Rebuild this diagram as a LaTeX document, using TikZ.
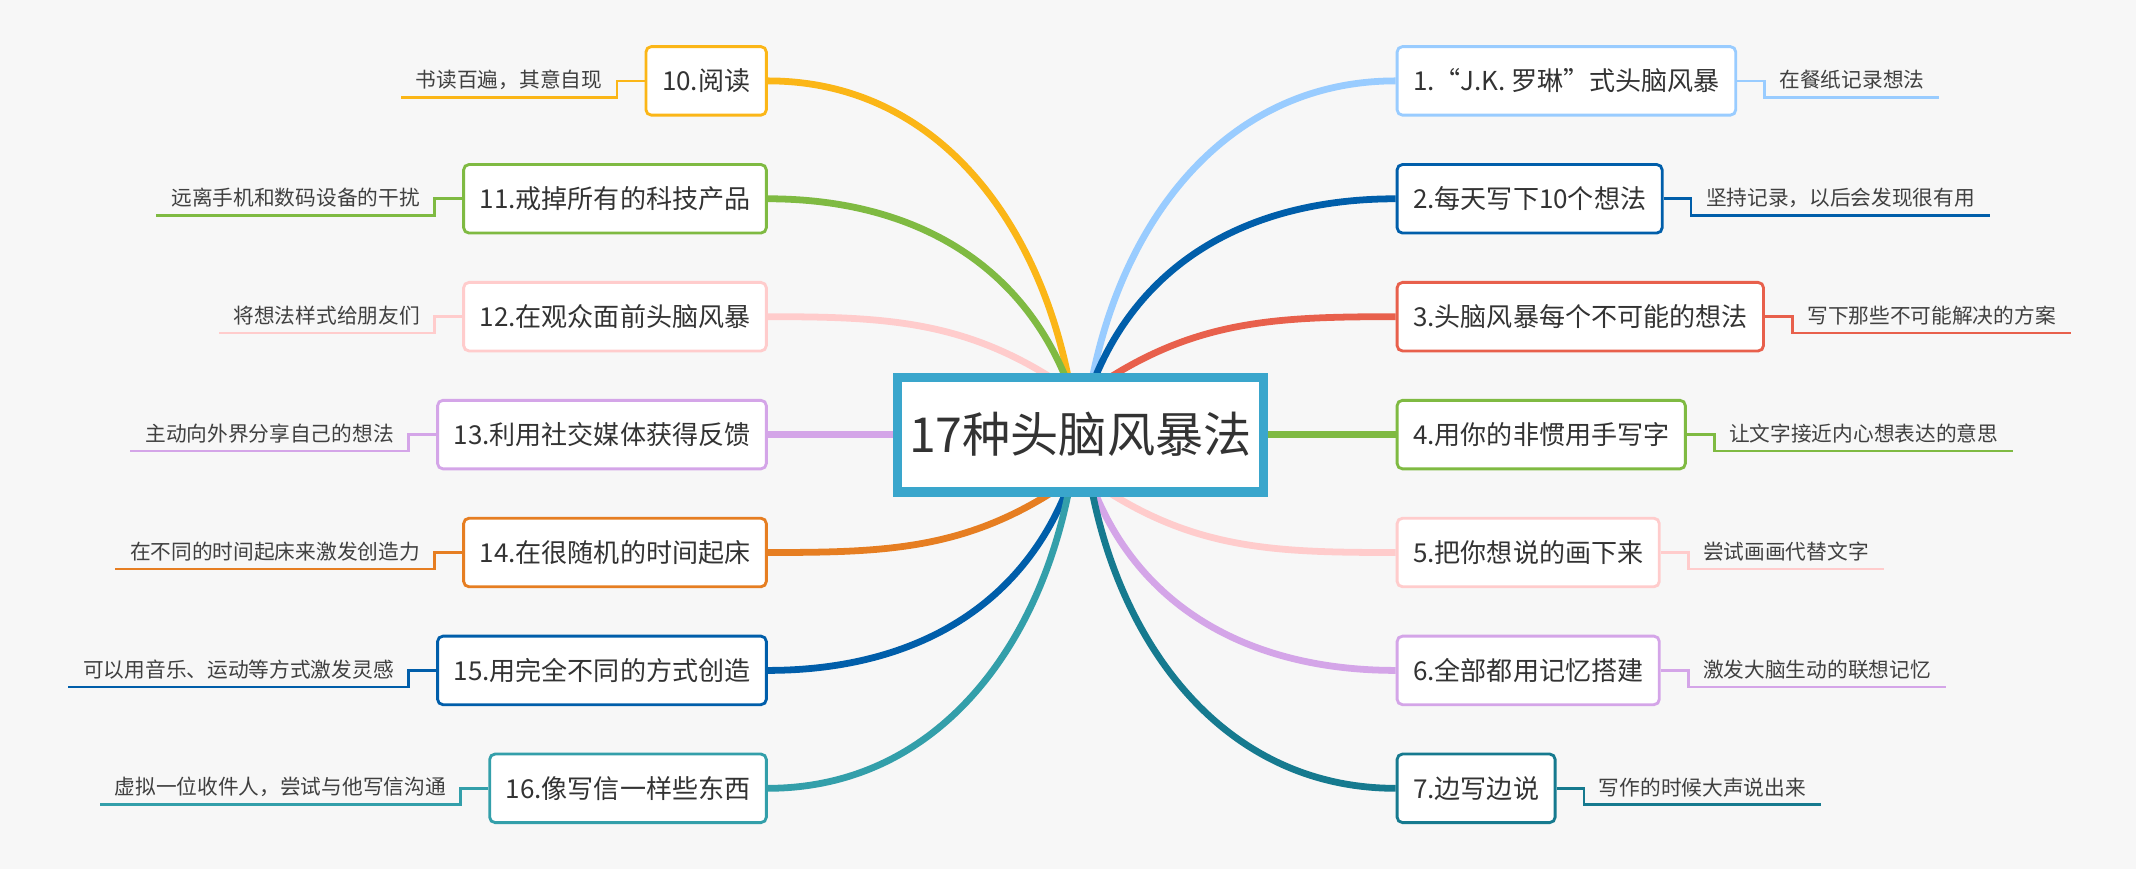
\documentclass[tikz,border=0pt]{standalone}
\usepackage{fontspec}
\setmainfont{Noto Sans CJK SC}
\usetikzlibrary{positioning}
\definecolor{bg}{HTML}{F7F7F7}
\definecolor{cA}{HTML}{99CCFF}
\definecolor{cB}{HTML}{005EAA}
\definecolor{cC}{HTML}{E8604C}
\definecolor{cD}{HTML}{7FBA42}
\definecolor{cE}{HTML}{FFCCCC}
\definecolor{cF}{HTML}{D4A5E8}
\definecolor{cG}{HTML}{167A8F}
\definecolor{cH}{HTML}{FBB617}
\definecolor{cI}{HTML}{E67E22}
\definecolor{cJ}{HTML}{339FAA}
\definecolor{cK}{HTML}{3AA6CC}
\begin{document}
\begin{tikzpicture}[x=0.0135cm,y=-0.0135cm]
\tikzset{
  topic/.style={draw, fill=white, line width=0.8pt, rounded corners=1.5pt,
    minimum height=0.675cm, inner xsep=4.5pt, font=\fontsize{7.3}{9}\selectfont, text=black!80},
  leaf/.style={inner xsep=4pt, inner ysep=2pt, font=\fontsize{5.8}{7}\selectfont, text=black!75},
  branch/.style={line width=1.9pt},
  twig/.style={line width=0.75pt}
}
\fill[bg] (0,0) rectangle (1558,634);
\coordinate (ur) at (795,285);
\coordinate (lr) at (795,350);
\coordinate (ul) at (781,285);
\coordinate (ll) at (781,350);
% right side
\foreach \i/\y/\c/\t/\l/\o in {
  1/59/cA/{1.“J.K. 罗琳”式头脑风暴}/{在餐纸记录想法}/80,
  2/145/cB/{2.每天写下10个想法}/{坚持记录，以后会发现很有用}/70,
  3/231/cC/{3.头脑风暴每个不可能的想法}/{写下那些不可能解决的方案}/35,
  5/403/cE/{5.把你想说的画下来}/{尝试画画代替文字}/-35,
  6/489/cF/{6.全部都用记忆搭建}/{激发大脑生动的联想记忆}/-70,
  7/575/cG/{7.边写边说}/{写作的时候大声说出来}/-80}{
  \node[topic, draw=\c, anchor=west] (n\i) at (1018,\y) {\t};
  \node[leaf, anchor=south west] (m\i) at ([xshift=20*0.0135cm,yshift=-12*0.0135cm]n\i.east) {\l};
  \draw[twig, \c] (n\i.east) -- ++(20,0) -- (m\i.south west) -- (m\i.south east);
  \ifnum\i<4
    \draw[branch, \c] (ur) to[out=\o, in=180] (n\i.west);
  \else
    \draw[branch, \c] (lr) to[out=\o, in=180] (n\i.west);
  \fi
}
\node[topic, draw=cD, anchor=west] (n4) at (1018,317) {4.用你的非惯用手写字};
\node[leaf, anchor=south west] (m4) at ([xshift=20*0.0135cm,yshift=-12*0.0135cm]n4.east) {让文字接近内心想表达的意思};
\draw[twig, cD] (n4.east) -- ++(20,0) -- (m4.south west) -- (m4.south east);
% left side
\foreach \i/\y/\c/\t/\l/\o in {
  10/59/cH/{10.阅读}/{书读百遍，其意自现}/100,
  11/145/cD/{11.戒掉所有的科技产品}/{远离手机和数码设备的干扰}/110,
  12/231/cE/{12.在观众面前头脑风暴}/{将想法样式给朋友们}/145,
  14/403/cI/{14.在很随机的时间起床}/{在不同的时间起床来激发创造力}/-145,
  15/489/cB/{15.用完全不同的方式创造}/{可以用音乐、运动等方式激发灵感}/-110,
  16/575/cJ/{16.像写信一样些东西}/{虚拟一位收件人，尝试与他写信沟通}/-100}{
  \node[topic, draw=\c, anchor=east] (n\i) at (560,\y) {\t};
  \node[leaf, anchor=south east] (m\i) at ([xshift=-20*0.0135cm,yshift=-12*0.0135cm]n\i.west) {\l};
  \draw[twig, \c] (n\i.west) -- ++(-20,0) -- (m\i.south east) -- (m\i.south west);
  \ifnum\i<13
    \draw[branch, \c] (ul) to[out=\o, in=0] (n\i.east);
  \else
    \draw[branch, \c] (ll) to[out=\o, in=0] (n\i.east);
  \fi
}
\node[topic, draw=cF, anchor=east] (n13) at (560,317) {13.利用社交媒体获得反馈};
\node[leaf, anchor=south east] (m13) at ([xshift=-20*0.0135cm,yshift=-12*0.0135cm]n13.west) {主动向外界分享自己的想法};
\draw[twig, cF] (n13.west) -- ++(-20,0) -- (m13.south east) -- (m13.south west);
% centre
\node[draw=cK, fill=white, line width=2.6pt, minimum width=3.6cm, minimum height=1.13cm,
  font=\fontsize{13.5}{16}\selectfont, text=black!80] (core) at (788,317) {17种头脑风暴法};
\draw[branch, cD] (core.east) -- (n4.west);
\draw[branch, cF] (core.west) -- (n13.east);
\end{tikzpicture}
\end{document}
